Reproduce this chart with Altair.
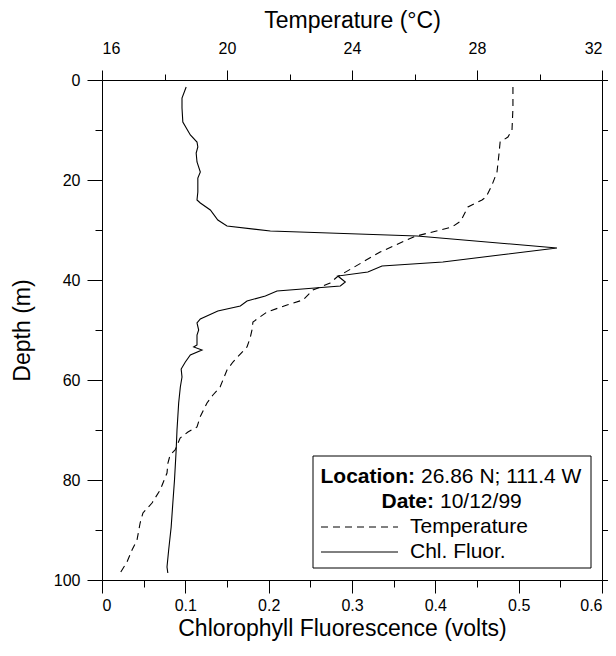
import altair as alt
import pandas as pd

# Chlorophyll fluorescence profile (depth m, volts)
chl_depth = [1.4, 3.6, 5.6, 8.4, 11, 12.4, 13.4, 14.6, 16.4, 18.4, 19.6, 22.4, 24, 24.6,
             26, 28, 29.2, 30.2, 31.2, 33.6, 36.4, 37.2, 38.4, 39.2, 40.4, 41.2, 42.2,
             43.2, 44.2, 45.2, 46.2, 47.8, 48.6, 50, 51, 53, 53.4, 54, 55, 56.4, 57.8,
             59.4, 61.4, 64.6, 70, 74, 80, 84.6, 89.4, 94, 97.4, 98.6]
chl_value = [0.101, 0.096, 0.096, 0.097, 0.106, 0.114, 0.115, 0.113, 0.114, 0.118, 0.115,
             0.115, 0.114, 0.118, 0.130, 0.139, 0.150, 0.202, 0.378, 0.546, 0.409, 0.336,
             0.319, 0.283, 0.292, 0.286, 0.210, 0.196, 0.174, 0.166, 0.139, 0.118, 0.114,
             0.116, 0.114, 0.114, 0.110, 0.120, 0.106, 0.100, 0.095, 0.096, 0.094, 0.092,
             0.090, 0.089, 0.087, 0.085, 0.083, 0.080, 0.078, 0.079]

# Temperature profile (depth m, deg C)
temp_depth = [1.4, 5.6, 10, 11.4, 12.4, 15, 18.4, 21, 23.4, 24, 25.4, 28.2, 29.4, 31.3,
              34.4, 39.4, 40.6, 42, 44, 45, 46.4, 48.4, 50, 51.6, 53.4, 56.4, 58, 61.4,
              63, 64.6, 67.4, 69.4, 70.4, 71.6, 74, 75, 76.6, 78.6, 82, 84.6, 86.6, 88.6,
              92, 94, 96.4, 98.6]
temp_value = [29.15, 29.15, 29.12, 28.99, 28.74, 28.70, 28.64, 28.48, 28.29, 28.16, 27.71,
              27.48, 27.2, 26.0, 24.90, 23.52, 23.30, 22.75, 22.43, 21.92, 21.28, 20.83,
              20.80, 20.74, 20.64, 20.19, 20.0, 19.78, 19.55, 19.36, 19.14, 19.04, 18.75,
              18.5, 18.34, 18.18, 18.11, 18.08, 17.86, 17.6, 17.31, 17.22, 17.12, 16.96,
              16.8, 16.58]

chl_ticks = [0, 0.1, 0.2, 0.3, 0.4, 0.5, 0.6]
chl_minor = [0.05, 0.15, 0.25, 0.35, 0.45, 0.55]
temp_ticks = [16, 20, 24, 28, 32]
temp_minor = [18, 22, 26, 30]
depth_ticks = [0, 20, 40, 60, 80, 100]
depth_minor = [10, 30, 50, 70, 90]

legend_bold = ["Location:", "Date:"]
legend_info = ["26.86 N; 111.4 W", "10/12/99"]
series_names = ["Temperature", "Chl. Fluor."]

chl_df = pd.DataFrame({"depth": chl_depth, "chl": chl_value})
temp_df = pd.DataFrame({"depth": temp_depth, "temp": temp_value})
one = pd.DataFrame({"a": [0]})

FONT = "Liberation Sans"
W, H = 500, 500

chl_scale = alt.Scale(domain=[0, 0.6], nice=False, zero=False)
temp_scale = alt.Scale(domain=[16, 32], nice=False, zero=False)
depth_scale = alt.Scale(domain=[0, 100], reverse=True, nice=False, zero=False)

common = dict(grid=False, labelFont=FONT, titleFont=FONT, labelColor="black",
              titleColor="black", tickColor="black", domainColor="black",
              titleFontWeight="normal", labelFontSize=16, titleFontSize=23)

# Temperature (dashed) with top axis and left depth axis
temp_line = alt.Chart(temp_df).mark_line(
    color="black", strokeWidth=1.1, strokeDash=[7, 5]
).encode(
    x=alt.X("temp:Q", scale=temp_scale,
            axis=alt.Axis(orient="top", values=temp_ticks, format="d", tickSize=10,
                          labelPadding=14, title="Temperature (°C)", titleY=-60,
                          titleBaseline="middle", **common)),
    y=alt.Y("depth:Q", scale=depth_scale,
            axis=alt.Axis(orient="left", values=depth_ticks, format="d", tickSize=15,
                          labelPadding=7, title="Depth (m)", titleX=-80,
                          titleBaseline="middle", **common)),
    order="depth:Q",
)

# Chlorophyll (solid) with bottom axis and right depth axis
chl_line = alt.Chart(chl_df).mark_line(color="black", strokeWidth=1.1).encode(
    x=alt.X("chl:Q", scale=chl_scale,
            axis=alt.Axis(orient="bottom", values=chl_ticks, format=".1~f", tickSize=13,
                          labelPadding=4, title="Chlorophyll Fluorescence (volts)",
                          titleX=240, titleY=48, titleBaseline="middle", **common)),
    y=alt.Y("depth:Q", scale=depth_scale,
            axis=alt.Axis(orient="right", values=depth_ticks, tickSize=13, labels=False,
                          title=None, **common)),
    order="depth:Q",
)

# Minor tick axes (invisible marks)
chl_minor_layer = alt.Chart(chl_df).mark_line(opacity=0).encode(
    x=alt.X("chl:Q", scale=chl_scale,
            axis=alt.Axis(orient="bottom", values=chl_minor, tickSize=7, labels=False,
                          domain=False, title=None, **common)),
    y=alt.Y("depth:Q", scale=depth_scale,
            axis=alt.Axis(orient="left", values=depth_minor, tickSize=7, labels=False,
                          domain=False, title=None, **common)),
)
temp_minor_layer = alt.Chart(temp_df).mark_line(opacity=0).encode(
    x=alt.X("temp:Q", scale=temp_scale,
            axis=alt.Axis(orient="top", values=temp_minor, tickSize=6, labels=False,
                          domain=False, title=None, **common)),
    y=alt.Y("depth:Q", scale=depth_scale,
            axis=alt.Axis(orient="right", values=depth_minor, tickSize=8, labels=False,
                          domain=False, title=None, **common)),
)

# Legend box
bx0, bx1, by0, by1 = 211, 489, 376, 488
box = alt.Chart(one).mark_rect(fill="white", stroke="black", strokeWidth=1).encode(
    x=alt.value(bx0), x2=alt.value(bx1), y=alt.value(by0), y2=alt.value(by1)
)
rows_y = [397, 422, 447, 472]
split_x = [313, 332]
texts = []
for i in range(2):
    texts.append(alt.Chart(one).mark_text(
        text=legend_bold[i], font=FONT, fontSize=21, fontWeight="bold",
        align="right", baseline="middle", color="black"
    ).encode(x=alt.value(split_x[i]), y=alt.value(rows_y[i])))
    texts.append(alt.Chart(one).mark_text(
        text=legend_info[i], font=FONT, fontSize=21, align="left",
        baseline="middle", color="black"
    ).encode(x=alt.value(split_x[i] + 6), y=alt.value(rows_y[i])))
dashes = [[7, 5], [1, 0]]
for i in range(2):
    texts.append(alt.Chart(one).mark_rule(
        color="black", strokeWidth=1, strokeDash=dashes[i]
    ).encode(x=alt.value(219), x2=alt.value(296), y=alt.value(rows_y[2 + i])))
    texts.append(alt.Chart(one).mark_text(
        text=series_names[i], font=FONT, fontSize=21, align="left",
        baseline="middle", color="black"
    ).encode(x=alt.value(308), y=alt.value(rows_y[2 + i])))

chart = alt.layer(
    temp_line, chl_line, chl_minor_layer, temp_minor_layer, box, *texts
).resolve_scale(x="independent").resolve_axis(x="independent", y="independent").properties(
    width=W, height=H,
    autosize=alt.AutoSizeParams(type="none"),
    padding={"left": 94, "top": 72, "right": 6, "bottom": 66},
).configure_view(strokeWidth=0).configure(background="white")

chart.save("out.html", embed_options={"renderer": "svg", "actions": False})
